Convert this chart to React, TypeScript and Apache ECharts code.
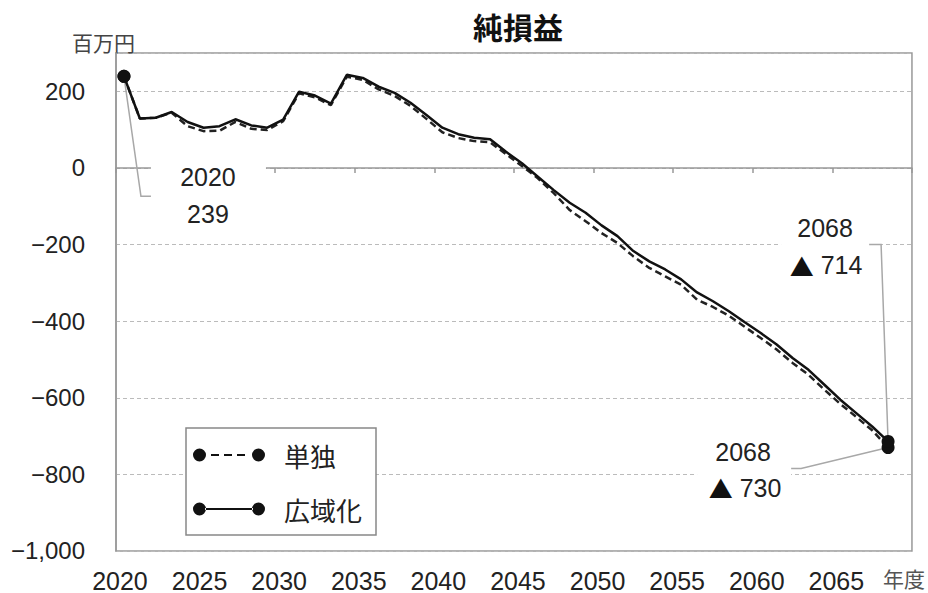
import React, { useEffect, useRef } from 'react';
import * as echarts from 'echarts';

// Fiscal years (category axis); the last, empty slot carries the "年度" unit label
const years = [
  '2020', '2021', '2022', '2023', '2024', '2025', '2026', '2027', '2028', '2029',
  '2030', '2031', '2032', '2033', '2034', '2035', '2036', '2037', '2038', '2039',
  '2040', '2041', '2042', '2043', '2044', '2045', '2046', '2047', '2048', '2049',
  '2050', '2051', '2052', '2053', '2054', '2055', '2056', '2057', '2058', '2059',
  '2060', '2061', '2062', '2063', '2064', '2065', '2066', '2067', '2068',
];
const axisCategories = [...years, '2069'];
const unitLabel = '年度';

// 単独 (stand-alone), dashed
const tandoku = [
  239, 129, 131, 144, 109, 96, 97, 120, 102, 99,
  122, 195, 184, 164, 238, 230, 205, 188, 162, 128,
  93, 78, 70, 67, 36, 5, -27, -66, -110, -139,
  -170, -196, -231, -261, -283, -305, -344, -363, -386, -415,
  -444, -474, -509, -540, -579, -616, -650, -685, -730,
];

// 広域化 (regionalised), solid
const kouiki = [
  239, 129, 131, 146, 120, 105, 109, 127, 111, 105,
  126, 199, 189, 168, 243, 235, 212, 196, 170, 138,
  105, 88, 79, 75, 42, 12, -23, -58, -91, -117,
  -150, -178, -217, -244, -265, -291, -325, -348, -374, -403,
  -431, -461, -496, -527, -566, -605, -640, -675, -714,
];

const seriesNames = ['単独', '広域化'];

const FONT = "'Liberation Sans', Arial, 'Noto Sans CJK JP', sans-serif";
const CJK = "'Noto Sans CJK JP', 'Noto Sans CJK SC', sans-serif";

const fmt = (v: number) => {
  const s = Math.abs(v).toLocaleString('en-US');
  return v < 0 ? '−' + s : s;
};

const dashedIcon =
  'path://M0,6.5 A6.5,6.5 0 1,0 13,6.5 A6.5,6.5 0 1,0 0,6.5 Z ' +
  'M59,6.5 A6.5,6.5 0 1,0 72,6.5 A6.5,6.5 0 1,0 59,6.5 Z ' +
  'M18,5.5 L26,5.5 L26,7.5 L18,7.5 Z M31,5.5 L39,5.5 L39,7.5 L31,7.5 Z M44,5.5 L52,5.5 L52,7.5 L44,7.5 Z';
const solidIcon =
  'path://M0,6.5 A6.5,6.5 0 1,0 13,6.5 A6.5,6.5 0 1,0 0,6.5 Z ' +
  'M59,6.5 A6.5,6.5 0 1,0 72,6.5 A6.5,6.5 0 1,0 59,6.5 Z ' +
  'M12,5.6 L60,5.6 L60,7.4 L12,7.4 Z';

export default function App() {
  const ref = useRef<HTMLDivElement>(null);

  useEffect(() => {
    const chart = echarts.init(ref.current!, null, { renderer: 'svg' });
    const last = years.length - 1;
    const dotSize = (_v: any, p: any) =>
      p && (p.dataIndex === 0 || p.dataIndex === last) ? 13 : 0;

    chart.setOption({
      animation: false,
      backgroundColor: '#fff',
      title: {
        text: '純損益',
        left: 518,
        top: 11,
        textAlign: 'center',
        padding: 0,
        textStyle: { fontSize: 30, fontWeight: 'bold', fontFamily: CJK, color: '#111' },
      },
      grid: {
        left: 116,
        right: 16,
        top: 53,
        bottom: 41,
        show: true,
        borderColor: '#999',
        borderWidth: 1.5,
        backgroundColor: 'transparent',
      },
      legend: {
        orient: 'vertical',
        left: 186,
        top: 428,
        padding: [12, 14, 11, 7],
        itemGap: 24,
        itemWidth: 72,
        itemHeight: 13,
        borderColor: '#888',
        borderWidth: 1.5,
        backgroundColor: '#fff',
        data: [
          { name: seriesNames[0], icon: dashedIcon },
          { name: seriesNames[1], icon: solidIcon },
        ],
        textStyle: {
          fontSize: 26,
          lineHeight: 30,
          fontFamily: CJK,
          color: '#222',
          padding: [0, 0, 0, 14],
        },
      },
      xAxis: [
        {
          type: 'category',
          data: axisCategories,
          boundaryGap: true,
          axisLine: { onZero: true, lineStyle: { color: '#999', width: 1.5 } },
          axisTick: { show: true, interval: 4, length: 5, lineStyle: { color: '#999', width: 1.5 } },
          axisLabel: { show: false },
          splitLine: { show: false },
        },
        {
          type: 'category',
          data: axisCategories,
          position: 'bottom',
          boundaryGap: true,
          axisLine: { show: false, onZero: false },
          axisTick: { show: false },
          splitLine: { show: false },
          axisLabel: {
            interval: (i: number) => i % 5 === 0 || i === axisCategories.length - 1,
            margin: 17,
            fontSize: 25,
            fontFamily: FONT,
            color: '#222',
            formatter: (v: string, i: number) =>
              i === axisCategories.length - 1 ? '{u|' + unitLabel + '}' : '{y|' + v + '}',
            rich: {
              y: { fontSize: 25, fontFamily: FONT, color: '#222', padding: [0, 8, 0, 0] },
              u: { fontSize: 21, fontFamily: CJK, color: '#555' },
            },
          },
        },
      ],
      yAxis: {
        type: 'value',
        min: -1000,
        max: 300,
        interval: 200,
        axisLine: { show: true, lineStyle: { color: '#999', width: 1.5 } },
        axisTick: { show: false },
        axisLabel: {
          margin: 31,
          fontSize: 24,
          fontFamily: FONT,
          color: '#222',
          showMaxLabel: false,
          formatter: (v: number) => (v === 300 ? '' : fmt(v)),
        },
        splitLine: { lineStyle: { color: '#bbb', type: [4, 3], width: 1 } },
      },
      series: [
        {
          name: seriesNames[0],
          type: 'line',
          xAxisIndex: 0,
          data: tandoku,
          symbol: 'circle',
          showSymbol: true,
          showAllSymbol: true,
          symbolSize: dotSize,
          itemStyle: { color: '#111' },
          lineStyle: { color: '#222', width: 2.5, type: [7, 4] },
          z: 2,
        },
        {
          name: seriesNames[1],
          type: 'line',
          xAxisIndex: 0,
          data: kouiki,
          symbol: 'circle',
          showSymbol: true,
          showAllSymbol: true,
          symbolSize: dotSize,
          itemStyle: { color: '#111' },
          lineStyle: { color: '#111', width: 2.5 },
          z: 3,
        },
      ],
    });

    const p0 = chart.convertToPixel({ gridIndex: 0 }, [0, kouiki[0]]) as number[];
    const p1 = chart.convertToPixel({ gridIndex: 0 }, [last, kouiki[last]]) as number[];
    const p2 = chart.convertToPixel({ gridIndex: 0 }, [last, tandoku[last]]) as number[];

    const txt = (x: number, y: number, text: string) => ({
      type: 'text',
      x,
      y,
      z: 7,
      style: {
        text,
        fontSize: 25,
        fontFamily: FONT,
        fill: '#222',
        align: 'center',
        verticalAlign: 'middle',
        rich: { tri: { fontSize: 24, fontFamily: CJK, fill: '#111' } },
      },
    });
    const box = (x1: number, y1: number, x2: number, y2: number) => ({
      type: 'rect',
      z: 6,
      shape: { x: x1, y: y1, width: x2 - x1, height: y2 - y1 },
      style: { fill: '#fff' },
    });
    const leader = (pts: number[][]) => ({
      type: 'polyline',
      z: 1,
      shape: { points: pts },
      style: { stroke: '#a8a8a8', lineWidth: 1.5, fill: null },
    });

    chart.setOption({
      graphic: [
        {
          type: 'text',
          left: 72,
          top: 31,
          style: { text: '百万円', fontSize: 21, fontFamily: CJK, fill: '#444' },
        },
        // 2020 label
        box(p0[0] + 27, p0[1] + 82, p0[0] + 142, p0[1] + 157),
        txt(p0[0] + 84, p0[1] + 101, years[0]),
        txt(p0[0] + 84, p0[1] + 138, String(kouiki[0])),
        leader([[p0[0], p0[1]], [p0[0] + 17, p0[1] + 120], [p0[0] + 27, p0[1] + 120]]),
        // 2068 広域化 label
        box(p1[0] - 107, p1[1] - 232, p1[0] - 19, p1[1] - 157),
        txt(p1[0] - 63, p1[1] - 213, years[last]),
        txt(p1[0] - 62, p1[1] - 176, '{tri|▲} ' + Math.abs(kouiki[last])),
        leader([[p1[0] - 19, p1[1] - 197], [p1[0] - 7, p1[1] - 197], [p1[0], p1[1]]]),
        // 2068 単独 label
        box(p2[0] - 191, p2[1] - 16, p2[0] - 97, p2[1] + 57),
        txt(p2[0] - 145, p2[1] + 4, years[last]),
        txt(p2[0] - 143, p2[1] + 40, '{tri|▲} ' + Math.abs(tandoku[last])),
        leader([[p2[0] - 97, p2[1] + 21], [p2[0] - 87, p2[1] + 21], [p2[0], p2[1]]]),
      ],
    });

    return () => chart.dispose();
  }, []);

  return (
    <div
      ref={ref}
      style={{ position: 'fixed', left: 0, top: 0, width: 928, height: 593 }}
    />
  );
}
